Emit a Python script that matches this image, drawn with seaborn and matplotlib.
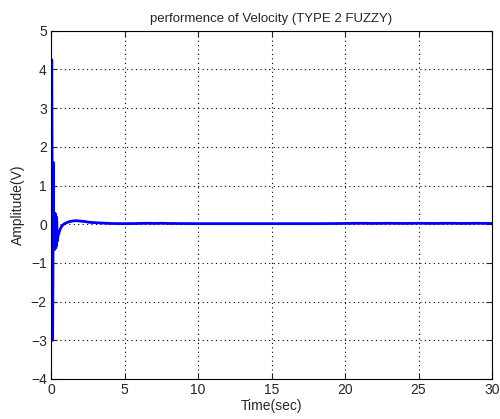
import matplotlib
matplotlib.use("Agg")
import matplotlib.pyplot as plt
import seaborn as sns
import pandas as pd

time_sec = [0.0, 0.02, 0.05, 0.08, 0.11, 0.13, 0.15, 0.17, 0.19, 0.21, 0.23, 0.25,
            0.27, 0.29, 0.31, 0.33, 0.35, 0.37, 0.39, 0.41, 0.45, 0.5, 0.6, 0.7,
            0.8, 0.9, 1.0, 1.2, 1.4, 1.6, 1.8, 2.0, 2.3, 2.6, 3.0, 3.5, 4.0, 5.0,
            6.0, 6.5, 7.0, 7.5, 8.0, 10.0, 12.0, 15.0, 18.0, 20.0, 21.0, 22.0,
            23.0, 24.0, 25.0, 26.0, 27.0, 28.0, 29.0, 30.0]
amplitude = [0.0, 2.5, 4.25, 1.0, -3.0, -1.5, 1.6, -0.65, 0.3, -0.65, 0.3, -0.65,
             0.28, -0.62, 0.25, -0.6, 0.2, -0.55, 0.1, -0.45, -0.36, -0.27, -0.15, -0.07,
             -0.02, 0.01, 0.03, 0.06, 0.08, 0.09, 0.09, 0.08, 0.07, 0.05, 0.04, 0.03, 0.02, 0.015,
             0.02, 0.025, 0.02, 0.025, 0.02, 0.015, 0.015, 0.015, 0.015, 0.02, 0.025, 0.02,
             0.025, 0.02, 0.025, 0.02, 0.025, 0.02, 0.025, 0.02]

df = pd.DataFrame({"Time(sec)": time_sec, "Amplitude(V)": amplitude})

sns.set_theme(style="ticks")
plt.rcParams['font.family'] = ['Liberation Sans', 'DejaVu Sans']

fig = plt.figure(figsize=(5.0, 4.19), dpi=100)
fig.patch.set_facecolor("white")
ax = fig.add_axes([0.102, 0.0955, 0.882, 0.831])
sns.lineplot(data=df, x="Time(sec)", y="Amplitude(V)", ax=ax, color="#0000ff",
             linewidth=2.0, estimator=None, sort=False)

ax.set_xlim(0, 30)
ax.set_ylim(-4, 5)
ax.set_xticks([0, 5, 10, 15, 20, 25, 30])
ax.set_yticks([-4, -3, -2, -1, 0, 1, 2, 3, 4, 5])
ax.grid(True, linestyle=(0, (1, 3)), color="black", linewidth=0.8)
ax.tick_params(direction="in", top=True, right=True, labelsize=10, length=4, width=0.8, pad=3)
for s in ax.spines.values():
    s.set_linewidth(0.8)
    s.set_color("black")
ax.set_xlabel("Time(sec)", fontsize=10, labelpad=1)
ax.set_ylabel("Amplitude(V)", fontsize=10, labelpad=4)
ax.set_title("performence of Velocity (TYPE 2 FUZZY)", fontsize=9.5, pad=6)

fig.savefig("out.png", dpi=100, facecolor="white")
